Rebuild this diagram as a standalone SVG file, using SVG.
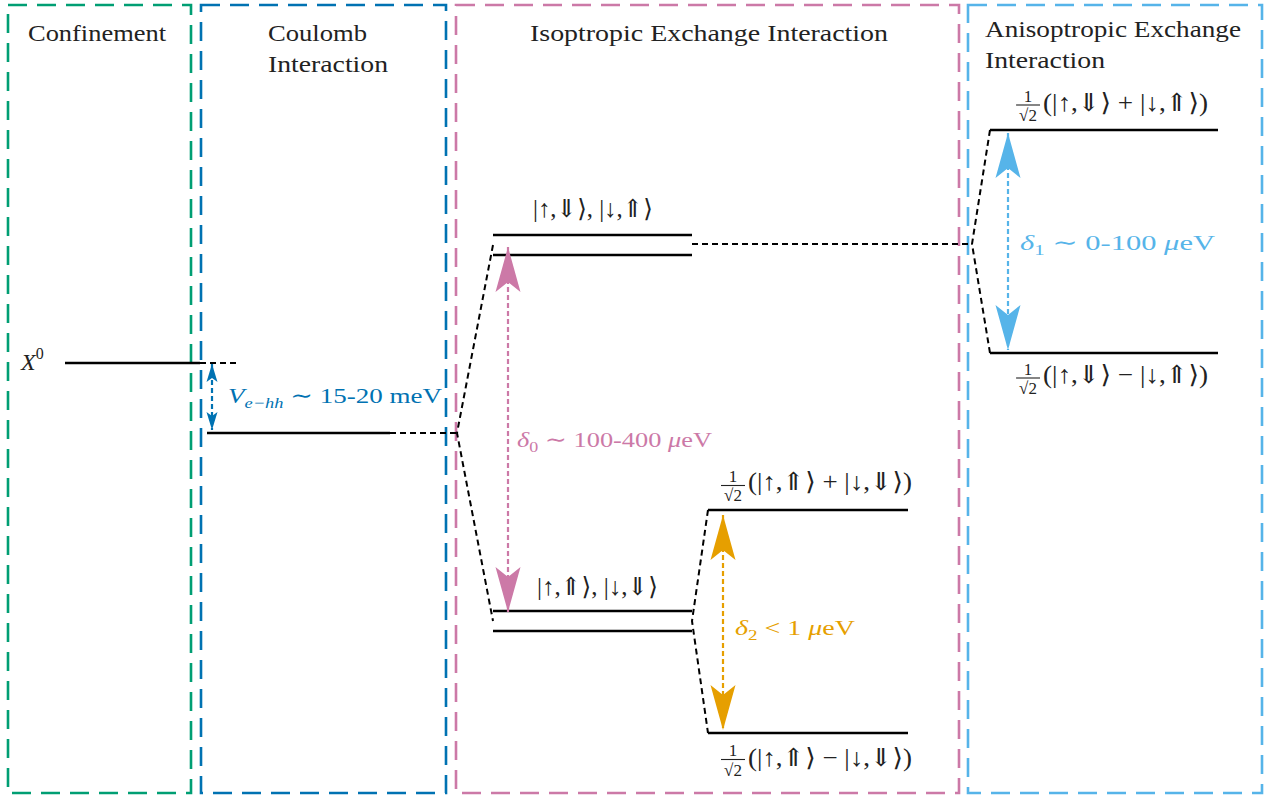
<svg xmlns="http://www.w3.org/2000/svg" width="1270" height="797" viewBox="0 0 1270 797">
<style>
.box{fill:none;stroke-width:2.6;stroke-dasharray:19 10}
.lvl{stroke:#000;stroke-width:2.4;fill:none}
.con{stroke:#000;stroke-width:2;fill:none;stroke-dasharray:6 4}
.shaft{stroke-width:2.2;fill:none;stroke-dasharray:5 3}
.t{font-family:"Liberation Serif","DejaVu Serif",serif;font-size:24px;fill:#222}
.m{font-family:"Liberation Serif","DejaVu Serif","DejaVu Sans",serif;font-size:22px;fill:#222}
.k{font-family:"Liberation Serif","DejaVu Serif","DejaVu Sans",serif;font-size:25px;fill:#222}
.f{font-family:"Liberation Serif","DejaVu Serif",serif;font-size:17px;fill:#222;text-anchor:middle}
.i{font-style:italic}
.bar{stroke:#222;stroke-width:1.1}
</style>
<defs>
<marker id="hPink" viewBox="-46 -14 48 28" refX="0" refY="0" markerWidth="48" markerHeight="28" markerUnits="userSpaceOnUse" orient="auto-start-reverse"><path d="M0,0 L-45,-12.5 L-35,0 L-45,12.5 Z" fill="#CC79A7"/></marker>
<marker id="hSky" viewBox="-46 -14 48 28" refX="0" refY="0" markerWidth="48" markerHeight="28" markerUnits="userSpaceOnUse" orient="auto-start-reverse"><path d="M0,0 L-45,-12.5 L-35,0 L-45,12.5 Z" fill="#56B4E9"/></marker>
<marker id="hOrange" viewBox="-46 -14 48 28" refX="0" refY="0" markerWidth="48" markerHeight="28" markerUnits="userSpaceOnUse" orient="auto-start-reverse"><path d="M0,0 L-45,-12.5 L-35,0 L-45,12.5 Z" fill="#E69F00"/></marker>
<marker id="hBlue" viewBox="-20 -7 22 14" refX="0" refY="0" markerWidth="22" markerHeight="14" markerUnits="userSpaceOnUse" orient="auto-start-reverse"><path d="M0,0 L-18,-5.5 L-14,0 L-18,5.5 Z" fill="#0072B2"/></marker>
</defs>

<g id="box-confinement">
<rect class="box" x="8" y="5" width="183" height="788" stroke="#009E73"/>
<text class="t" x="28" y="41" textLength="138" lengthAdjust="spacingAndGlyphs">Confinement</text>
</g>
<g id="box-coulomb">
<rect class="box" x="201" y="5" width="245" height="788" stroke="#0072B2"/>
<text class="t" x="268" y="41" textLength="99" lengthAdjust="spacingAndGlyphs">Coulomb</text>
<text class="t" x="268" y="72" textLength="120" lengthAdjust="spacingAndGlyphs">Interaction</text>
</g>
<g id="box-isotropic">
<rect class="box" x="456" y="5" width="503" height="788" stroke="#CC79A7"/>
<text class="t" x="530" y="41" textLength="358" lengthAdjust="spacingAndGlyphs">Isoptropic Exchange Interaction</text>
</g>
<g id="box-anisotropic">
<rect class="box" x="968" y="5" width="294" height="788" stroke="#56B4E9"/>
<text class="t" x="985" y="37" textLength="256" lengthAdjust="spacingAndGlyphs">Anisoptropic Exchange</text>
<text class="t" x="985" y="68" textLength="120" lengthAdjust="spacingAndGlyphs">Interaction</text>
</g>

<g id="level-X0">
<line class="lvl" x1="65" y1="363" x2="200" y2="363"/>
<text class="t" x="21" y="370"><tspan class="i">X</tspan><tspan font-size="16" dy="-11">0</tspan></text>
</g>
<g id="level-coulomb">
<line class="lvl" x1="207" y1="433" x2="390" y2="433"/>
</g>
<g id="level-bright">
<line class="lvl" x1="493" y1="235" x2="692" y2="235"/>
<line class="lvl" x1="493" y1="255" x2="692" y2="255"/>
<text class="k" x="533" y="217" textLength="120" lengthAdjust="spacingAndGlyphs">|↑,⇓⟩, |↓,⇑⟩</text>
</g>
<g id="level-dark">
<line class="lvl" x1="493" y1="611" x2="692" y2="611"/>
<line class="lvl" x1="493" y1="631" x2="692" y2="631"/>
<text class="k" x="537" y="595" textLength="121" lengthAdjust="spacingAndGlyphs">|↑,⇑⟩, |↓,⇓⟩</text>
</g>
<g id="level-bright-plus">
<line class="lvl" x1="990" y1="130" x2="1218" y2="130"/>
<text class="f" x="1028" y="102">1</text>
<line class="bar" x1="1016" y1="105" x2="1040" y2="105"/>
<text class="f" x="1028" y="121">√2</text>
<text class="k" x="1043" y="111" textLength="165" lengthAdjust="spacingAndGlyphs">(|↑,⇓⟩ + |↓,⇑⟩)</text>
</g>
<g id="level-bright-minus">
<line class="lvl" x1="990" y1="353" x2="1218" y2="353"/>
<text class="f" x="1028" y="375">1</text>
<line class="bar" x1="1016" y1="378" x2="1040" y2="378"/>
<text class="f" x="1028" y="394">√2</text>
<text class="k" x="1043" y="383" textLength="165" lengthAdjust="spacingAndGlyphs">(|↑,⇓⟩ − |↓,⇑⟩)</text>
</g>
<g id="level-dark-plus">
<line class="lvl" x1="708" y1="510" x2="908" y2="510"/>
<text class="f" x="733" y="482">1</text>
<line class="bar" x1="721" y1="485.5" x2="745" y2="485.5"/>
<text class="f" x="733" y="501">√2</text>
<text class="k" x="748" y="490" textLength="164" lengthAdjust="spacingAndGlyphs">(|↑,⇑⟩ + |↓,⇓⟩)</text>
</g>
<g id="level-dark-minus">
<line class="lvl" x1="708" y1="733" x2="908" y2="733"/>
<text class="f" x="733" y="756">1</text>
<line class="bar" x1="721" y1="759.5" x2="745" y2="759.5"/>
<text class="f" x="733" y="776">√2</text>
<text class="k" x="748" y="766" textLength="164" lengthAdjust="spacingAndGlyphs">(|↑,⇑⟩ − |↓,⇓⟩)</text>
</g>

<g id="connectors">
<line class="con" x1="200" y1="363" x2="240" y2="363"/>
<line class="con" x1="390" y1="433" x2="457" y2="433"/>
<polyline class="con" points="493,245 457,433 493,621"/>
<line class="con" x1="692" y1="244" x2="972" y2="244"/>
<polyline class="con" points="990,130 972,244 990,353"/>
<polyline class="con" points="708,510 692,621 708,733"/>
<line class="shaft" stroke="#0072B2" x1="212" y1="364" x2="212" y2="430" marker-start="url(#hBlue)" marker-end="url(#hBlue)"/>
<line class="shaft" stroke="#CC79A7" x1="508" y1="247" x2="508" y2="612" marker-start="url(#hPink)" marker-end="url(#hPink)"/>
<line class="shaft" stroke="#56B4E9" x1="1008" y1="133" x2="1008" y2="350" marker-start="url(#hSky)" marker-end="url(#hSky)"/>
<line class="shaft" stroke="#E69F00" x1="723" y1="515" x2="723" y2="730" marker-start="url(#hOrange)" marker-end="url(#hOrange)"/>
<text class="m" x="228" y="403" style="fill:#0072B2" textLength="214" lengthAdjust="spacingAndGlyphs"><tspan class="i">V</tspan><tspan class="i" font-size="15" dy="5">e−hh</tspan><tspan dy="-5"> ∼ 15-20 meV</tspan></text>
<text class="m" x="517" y="447" style="fill:#CC79A7" textLength="195" lengthAdjust="spacingAndGlyphs"><tspan class="i">δ</tspan><tspan font-size="15" dy="5">0</tspan><tspan dy="-5"> ∼ 100-400 </tspan><tspan class="i">μ</tspan><tspan>eV</tspan></text>
<text class="m" x="1020" y="250" style="fill:#56B4E9" textLength="195" lengthAdjust="spacingAndGlyphs"><tspan class="i">δ</tspan><tspan font-size="15" dy="5">1</tspan><tspan dy="-5"> ∼ 0-100 </tspan><tspan class="i">μ</tspan><tspan>eV</tspan></text>
<text class="m" x="735" y="635" style="fill:#E69F00" textLength="120" lengthAdjust="spacingAndGlyphs"><tspan class="i">δ</tspan><tspan font-size="15" dy="5">2</tspan><tspan dy="-5"> &lt; 1 </tspan><tspan class="i">μ</tspan><tspan>eV</tspan></text>
</g>
</svg>
